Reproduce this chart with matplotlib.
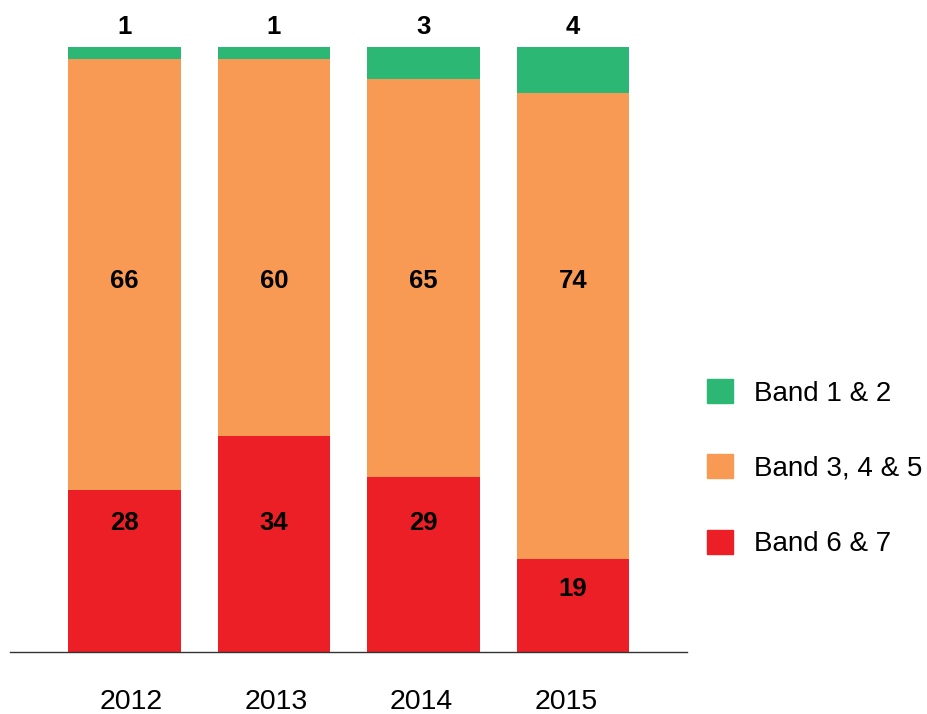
import matplotlib
matplotlib.use("Agg")
import matplotlib.pyplot as plt
from matplotlib.patches import Patch
import numpy as np

years = ["2012", "2013", "2014", "2015"]
series = ["Band 1 & 2", "Band 3, 4 & 5", "Band 6 & 7"]
# labelled values
labels_low = [1, 1, 3, 4]       # Band 1 & 2
labels_mid = [66, 60, 65, 74]   # Band 3, 4 & 5
labels_high = [28, 34, 29, 19]  # Band 6 & 7
# bar heights as drawn (share of full bar)
share_low = [2.1, 2.1, 5.3, 7.6]
share_mid = [71.2, 62.3, 65.9, 77.0]
share_high = [26.7, 35.6, 28.8, 15.4]

colors = ["#2DB774", "#F89A54", "#ED1F26"]

W, H = 928, 714
fig = plt.figure(figsize=(W / 100, H / 100), dpi=100)
ax = fig.add_axes([10 / W, (H - 651.7) / H, (687 - 10) / W, (651.7 - 46.7) / H])

x = np.arange(len(years))
bw = 0.753
high = np.array(share_high)
mid = np.array(share_mid)
low = np.array(share_low)
ax.bar(x, high, bw, color=colors[2], linewidth=0)
ax.bar(x, mid, bw, bottom=high, color=colors[1], linewidth=0)
ax.bar(x, low, bw, bottom=high + mid, color=colors[0], linewidth=0)

ax.set_xlim(-0.764, 3.761)
ax.set_ylim(0, 100)

num_font = dict(family=["Liberation Sans", "DejaVu Sans"], fontweight="bold",
                fontsize=18.5, color="black", ha="center", va="center")
for i in range(len(years)):
    ax.text(x[i], 103.3, str(labels_low[i]), clip_on=False, **num_font)
    ax.text(x[i], 61.2, str(labels_mid[i]), **num_font)
    yh = min(21.3, high[i] - 5.1)
    ax.text(x[i], yh, str(labels_high[i]), **num_font)

for s in ["top", "right", "left"]:
    ax.spines[s].set_visible(False)
ax.spines["bottom"].set_color("#333333")
ax.spines["bottom"].set_linewidth(1.0)
ax.set_yticks([])
# year labels sit on a slightly narrower grid than the bars
ax.set_xticks(0.049 + 0.969 * x)
ax.set_xticklabels(years, fontsize=20.5, family=["Liberation Sans", "DejaVu Sans"])
ax.tick_params(axis="x", length=0, pad=27)

handles = [Patch(color=colors[0]), Patch(color=colors[1]), Patch(color=colors[2])]
leg = fig.legend(handles, series, loc="upper left", bbox_to_anchor=(707 / W, 1 - 379 / H),
                 frameon=False, prop={"family": ["Liberation Sans", "DejaVu Sans"], "size": 20},
                 handlelength=0.95, handleheight=0.95, handletextpad=0.75, labelspacing=1.72,
                 borderaxespad=0, borderpad=0)

fig.savefig("out.png", dpi=100)
